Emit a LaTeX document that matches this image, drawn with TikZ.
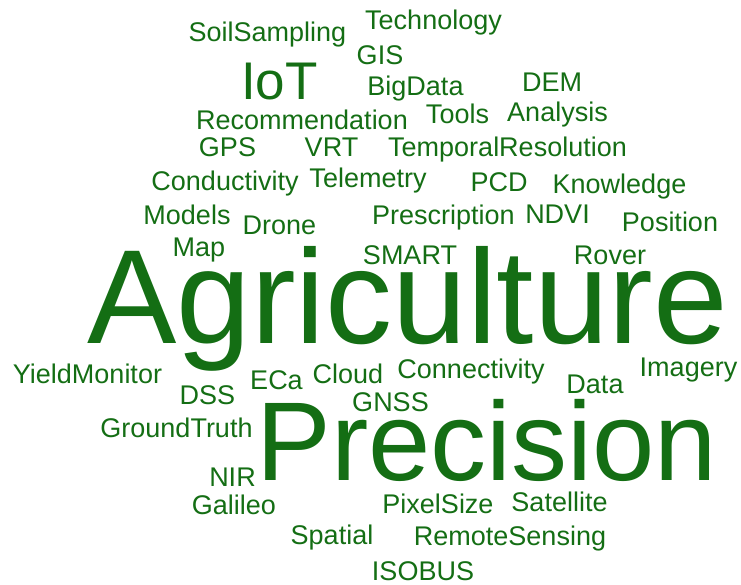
\documentclass[tikz,border=0pt]{standalone}
\usepackage{fontspec}
\setmainfont{Liberation Sans}
\definecolor{cloudgreen}{RGB}{20,110,20}

\begin{document}
\begin{tikzpicture}[x=1pt, y=-1pt,
    word/.style={anchor=base, inner sep=0pt, text=cloudgreen, font=\fontsize{27}{27}\selectfont},
    bigword/.style={word, font=\fontsize{#1}{#1}\selectfont}]

    \useasboundingbox (0,0) rectangle (741,585);

    % the three large terms
    \node[bigword=134] (agriculture) at (407.5,343) {Agriculture};
    \node[bigword=112] (precision) at (487,480) {Precision};
    \node[bigword=53] (iot) at (279.5,100) {IoT};

    % upper part
    \node[word] (technology) at (433.5,30) {Technology};
    \node[word] (soilsampling) at (267.5,42) {SoilSampling};
    \node[word] (gis) at (380,65) {GIS};
    \node[word] (bigdata) at (415.5,96) {BigData};
    \node[word] (dem) at (552,92) {DEM};
    \node[word] (recommendation) at (302,130) {Recommendation};
    \node[word] (tools) at (457.5,124) {Tools};
    \node[word] (analysis) at (557.5,122) {Analysis};
    \node[word] (gps) at (227.5,157) {GPS};
    \node[word] (vrt) at (331.5,157) {VRT};
    \node[word] (temporal) at (507.5,157) {TemporalResolution};
    \node[word] (conductivity) at (225,191) {Conductivity};
    \node[word] (telemetry) at (368,188) {Telemetry};
    \node[word] (pcd) at (499,192) {PCD};
    \node[word] (knowledge) at (619.5,194) {Knowledge};
    \node[word] (models) at (187,225) {Models};
    \node[word] (drone) at (279.5,235) {Drone};
    \node[word] (prescription) at (443.5,225) {Prescription};
    \node[word] (ndvi) at (557.5,224) {NDVI};
    \node[word] (position) at (670,232) {Position};
    \node[word] (map) at (199,257) {Map};
    \node[word] (smart) at (410,265) {SMART};
    \node[word] (rover) at (610,265) {Rover};

    % lower part
    \node[word] (yieldmonitor) at (87.5,383) {YieldMonitor};
    \node[word] (cloud) at (348,383) {Cloud};
    \node[word] (eca) at (276.5,389) {ECa};
    \node[word] (connectivity) at (471,378) {Connectivity};
    \node[word] (imagery) at (688.5,376) {Imagery};
    \node[word] (data) at (595,393) {Data};
    \node[word] (dss) at (207.5,404) {DSS};
    \node[word] (gnss) at (390.5,411) {GNSS};
    \node[word] (groundtruth) at (176.5,437) {GroundTruth};
    \node[word] (nir) at (232.5,486) {NIR};
    \node[word] (galileo) at (234,514) {Galileo};
    \node[word] (pixelsize) at (438,513) {PixelSize};
    \node[word] (satellite) at (559.5,511) {Satellite};
    \node[word] (spatial) at (332,544) {Spatial};
    \node[word] (remotesensing) at (510,545) {RemoteSensing};
    \node[word] (isobus) at (423,580) {ISOBUS};

\end{tikzpicture}
\end{document}
